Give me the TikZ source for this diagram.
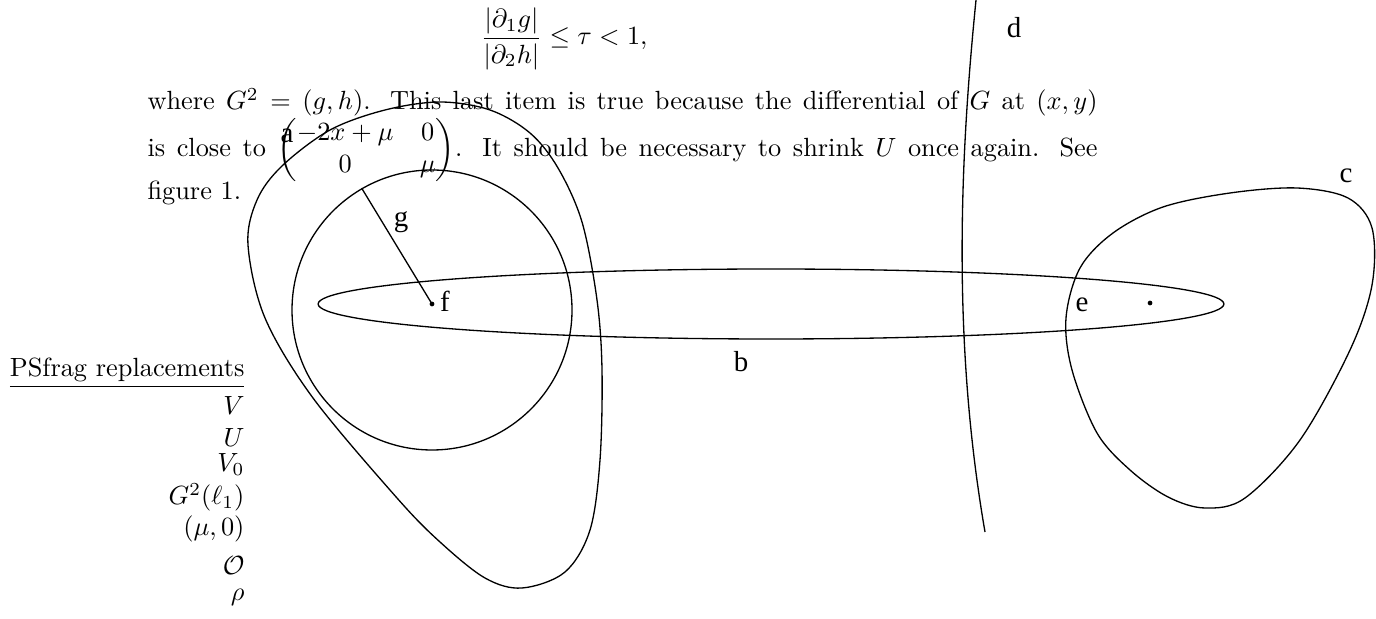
\documentclass[tikz,border=0pt]{standalone}
\usepackage{amsmath,amssymb}
\usepackage{fontspec}
\newfontfamily\lblfont{Liberation Serif}
\usepackage{tikz}
\usetikzlibrary{shapes.geometric}
\tikzset{
  crv/.style={line width=0.5pt},
  lbl/.style={font=\lblfont\fontsize{11}{13}\selectfont,inner sep=0pt,anchor=base},
  txt/.style={inner sep=0pt,anchor=base west},
  rep/.style={inner sep=0pt,anchor=base east}
}
\def\linew{361pt}

\begin{document}
\begin{tikzpicture}[x=0.38pt,y=-0.38pt]
\useasboundingbox (0,0) rectangle (1376,619);
% text of the page
\node[inner sep=0pt,anchor=base] (disp) at (564,45) {$\displaystyle\frac{|\partial_1 g|}{|\partial_2 h|}\le\tau<1,$};
\node[txt] (line1) at (147,110) {\makebox[\linew][s]{where $G^2=(g,h)$. This last item is true because the differential of $G$ at $(x,y)$}};
\node[txt] (line2) at (147,157) {\makebox[\linew][s]{is close to $\begin{pmatrix}-2x+\mu & 0\\ 0 & \mu\end{pmatrix}$. It should be necessary to shrink $U$ once again. See}};
\node[txt] (line3) at (147,200) {figure 1.};
% psfrag list
\node[rep] (hdr) at (245,377) {\underline{PSfrag replacements}};
\node[rep] (rV) at (245,415) {$V$};
\node[rep] (rU) at (245,447) {$U$};
\node[rep] (rVz) at (245,472) {$V_0$};
\node[rep] (rG) at (245,505) {$G^2(\ell_1)$};
\node[rep] (rmu) at (245,536) {$(\mu,0)$};
\node[rep] (rO) at (245,574) {$\mathcal{O}$};
\node[rep] (rrho) at (245,600) {$\rho$};
% curves
\node[circle,draw,crv,minimum size=106.4pt,inner sep=0pt] (U) at (432,310) {};
\node[ellipse,draw,crv,minimum width=344.2pt,minimum height=26.6pt,inner sep=0pt] (strip) at (771,304) {};
\draw[crv] plot[smooth cycle,tension=0.55] coordinates {(440,102) (490,110) (530,133) (558,168) (582,222) (597,300) (602,370) (600,460) (590,530) (565,572) (522,588) (485,578) (440,542) (397,498) (313,398) (265,318) (248,245) (257,200) (282,166) (330,130) (385,110)};
\draw[crv] plot[smooth cycle,tension=0.55] coordinates {(1297,188) (1348,198) (1372,228) (1372,285) (1350,350) (1300,440) (1245,498) (1205,508) (1168,497) (1130,470) (1097,433) (1072,370) (1066,318) (1080,268) (1113,233) (1163,207) (1230,193)};
\coordinate (dtop) at (976,0);
\coordinate (dbot) at (985,532);
\draw[crv] (dtop) .. controls (962,140) and (950,330) .. (dbot);
\coordinate (fpt) at (432,304);
\coordinate (ept) at (1150,303);
\fill (fpt) circle (0.9pt);
\fill (ept) circle (0.9pt);
\draw[crv] (fpt) -- (U.120);
% labels
\node[lbl] (la) at (287,143) {a};
\node[lbl] (lb) at (741,372) {b};
\node[lbl] (lc) at (1346,183) {c};
\node[lbl] (ld) at (1014,38) {d};
\node[lbl] (le) at (1082,312) {e};
\node[lbl] (lf) at (445,312) {f};
\node[lbl] (lg) at (401,227) {g};
\end{tikzpicture}
\end{document}
